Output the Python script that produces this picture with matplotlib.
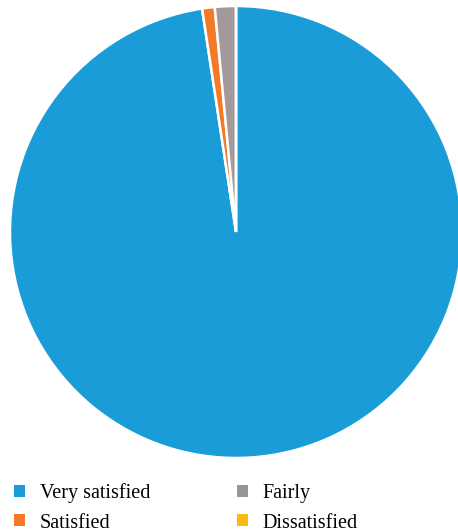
import matplotlib.pyplot as plt
from matplotlib.patches import Patch

plt.rcParams['font.family'] = 'serif'
plt.rcParams['font.serif'] = ['Liberation Serif', 'DejaVu Serif']

# data (percentages)
labels = ['Very satisfied', 'Satisfied', 'Fairly', 'Dissatisfied']
values = [97.6, 0.9, 1.5, 0.0]
colors = ['#1a9cd8', '#f47a2a', '#a4989a', '#fdb913']
legend_colors = ['#1a9cd8', '#f47a2a', '#939598', '#fdb913']

fig = plt.figure(figsize=(4.58, 5.31), dpi=100)
W, H = 458, 531
cx, cy, r = 236, 232, 226
ax = fig.add_axes([(cx - r) / W, (H - cy - r) / H, 2 * r / W, 2 * r / H])

ax.pie(values, colors=colors, startangle=90, counterclock=False, radius=1,
       wedgeprops=dict(edgecolor='white', linewidth=1.8))
ax.set_xlim(-1, 1)
ax.set_ylim(-1, 1)
ax.set_aspect('auto')
ax.axis('off')
for p in ax.patches:
    p.set_clip_on(False)

handles = [Patch(facecolor=c, edgecolor='none') for c in legend_colors]
fig.legend(handles, labels, ncol=2, loc='lower left',
           bbox_to_anchor=(-0.01, -0.037), frameon=False,
           prop={'size': 14.5},
           handlelength=0.55, handleheight=0.55, handletextpad=0.75,
           columnspacing=4.3, labelspacing=0.5)

fig.savefig('out.png', dpi=100)
